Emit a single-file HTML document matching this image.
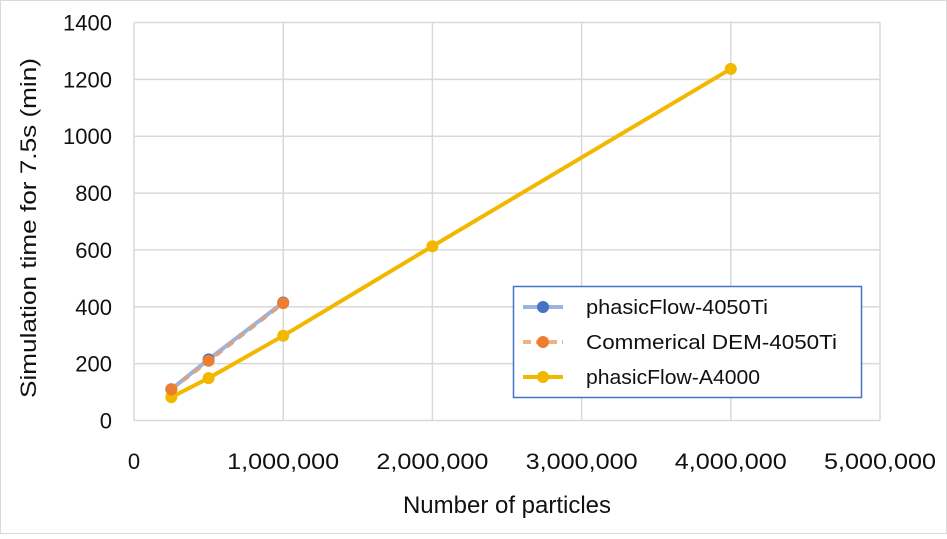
<!DOCTYPE html>
<html><head><meta charset="utf-8"><style>
body{margin:0;background:#fff;}
svg text{font-family:"Liberation Sans",Arial,sans-serif;fill:#111;}
</style></head><body>
<svg id="chart" width="947" height="534">
<rect x="0.5" y="0.5" width="946" height="533" fill="#fff" stroke="#d9d9d9"/>
<g id="grid"></g><g id="series"></g><g id="ticks"></g>
<text x="507" y="513" font-size="24" text-anchor="middle">Number of particles</text>
<text transform="translate(36,228) rotate(-90)" font-size="22" text-anchor="middle" textLength="340" lengthAdjust="spacingAndGlyphs">Simulation time for 7.5s (min)</text>
<g>
<rect x="513.5" y="286.5" width="348" height="111" fill="#fff" stroke="#4472c4" stroke-width="1.5"/>
<g>
<line x1="523" y1="307" x2="563" y2="307" stroke="#9ab3e0" stroke-width="4"/><circle cx="543" cy="307" r="6" fill="#4472c4"/>
<text x="586" y="314" font-size="20" textLength="182" lengthAdjust="spacingAndGlyphs">phasicFlow-4050Ti</text></g>
<g>
<line x1="523" y1="342" x2="563" y2="342" stroke="#f4b183" stroke-width="4" stroke-dasharray="8,5"/><circle cx="543" cy="342" r="6" fill="#ed7d31"/>
<text x="586" y="349" font-size="20" textLength="251" lengthAdjust="spacingAndGlyphs">Commerical DEM-4050Ti</text></g>
<g>
<line x1="523" y1="377" x2="563" y2="377" stroke="#f2b800" stroke-width="4"/><circle cx="543" cy="377" r="6" fill="#f2b800"/>
<text x="586" y="384" font-size="20" textLength="174" lengthAdjust="spacingAndGlyphs">phasicFlow-A4000</text></g>
</g>
</svg>
<script>
const xCats=[250000,500000,1000000,2000000,4000000];
const blueVals=[110,215,415];
const orangeVals=[110,210,413];
const yellowVals=[82,149,298,613,1237];
const yTicks=[0,200,400,600,800,1000,1200,1400];
const xTicks=[0,1000000,2000000,3000000,4000000,5000000];
const xTickLabels=["0","1,000,000","2,000,000","3,000,000","4,000,000","5,000,000"];
const NS="http://www.w3.org/2000/svg";
const X=v=>134+v/5000000*746;
const Y=v=>420.5-v/1400*398;
function mk(tag,attrs,parent){const e=document.createElementNS(NS,tag);for(const k in attrs)e.setAttribute(k,attrs[k]);document.getElementById(parent).appendChild(e);return e;}
yTicks.forEach(t=>{
 const l=mk('line',{x1:134,x2:880,y1:Y(t),y2:Y(t),stroke:'#d9d9d9','stroke-width':1.5},'grid');
 
 
 const tx=mk('text',{x:112,y:Y(t)+8,'font-size':22,'text-anchor':'end'},'ticks');tx.textContent=t;
 
 
});
xTicks.forEach((t,i)=>{
 const l=mk('line',{x1:X(t),x2:X(t),y1:Y(0),y2:Y(1400),stroke:'#d9d9d9','stroke-width':1.5},'grid');
 
 
 const tx=mk('text',{x:X(t),y:469,'font-size':22,'text-anchor':'middle'},'ticks');tx.textContent=xTickLabels[i];
 if(i>0){tx.setAttribute('textLength','112');tx.setAttribute('lengthAdjust','spacingAndGlyphs');}
 
 
});
function series(vals,line,dot,dash,name){
 const pts=vals.map((v,i)=>X(xCats[i])+','+Y(v)).join(' ');
 const p=mk('polyline',{points:pts,fill:'none',stroke:line,'stroke-width':4,'stroke-dasharray':dash||'none'},'series');
 
 
 vals.forEach((v,i)=>{const c=mk('circle',{cx:X(xCats[i]),cy:Y(v),r:6,fill:dot},'series');
  
  });
}
series(yellowVals,'#f2b800','#f2b800',null,'phasicflow-a4000');
series(blueVals,'#9ab3e0','#4472c4',null,'phasicflow-4050ti');
series(orangeVals,'#d4a58a','#ed7d31','8,6','commercial-dem');
</script>
</body></html>
